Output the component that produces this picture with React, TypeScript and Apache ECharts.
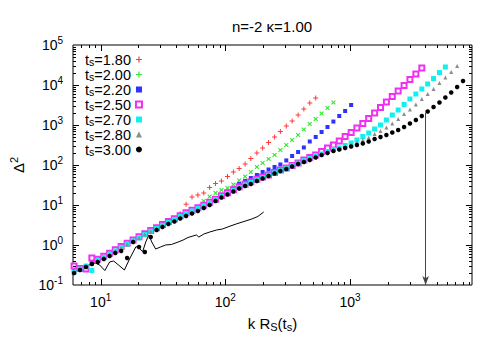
import React, { useEffect, useRef } from 'react';
import * as echarts from 'echarts';

// shared k R_S(t_s) grid
const kGrid = [6.12, 6.83, 7.62, 8.5, 9.47, 10.6, 11.8, 13.1, 14.6, 16.3, 18.2, 20.3, 22.6, 25.2, 28.1, 31.3, 34.9, 39.0, 43.4, 48.4, 54.0, 60.2, 67.1, 74.8, 83.4, 93.0, 104, 116, 129, 144, 160, 179, 199, 222, 248, 276, 308, 343, 383, 426, 475, 530, 591, 659, 735, 819, 913, 1020, 1135, 1265, 1410, 1573, 1754, 1955, 2180, 2430, 2710, 3020, 3370, 3760, 4190, 4670, 5210, 5810, 6470, 7220, 8050];

const ts180 = [0.22, 0.25, 0.30, 0.36, 0.42, 0.50, 0.60, 0.73, 0.89, 1.06, 1.30, 1.55, 1.9, 2.25, 2.7, 3.2, 3.8, 4.6, 6.0, 10.5, 15.8, 17.8, 20.0, 27.4, 34.5, 39.8, 51.6, 66.8, 81.8, 106, 145, 200, 266, 365, 501, 688, 944, 1259, 1778, 2512, 3548, 4732];
const ts200 = [0.21, 0.26, 0.30, 0.35, 0.43, 0.50, 0.60, 0.74, 0.90, 1.07, 1.32, 1.55, 1.9, 2.25, 2.7, 3.15, 3.8, 4.5, 5.3, 6.35, 7.4, 9.0, 12.5, 16.3, 20.0, 23.7, 26.6, 32.5, 41.0, 51.6, 66.8, 89.1, 112, 141, 178, 237, 316, 422, 562, 772, 1059, 1413, 1940, 2661, 3652];
const ts220 = [0.22, 0.25, 0.30, 0.35, 0.42, 0.51, 0.60, 0.72, 0.90, 1.05, 1.30, 1.56, 1.86, 2.25, 2.68, 3.2, 3.75, 4.5, 5.3, 6.3, 7.3, 8.4, 9.8, 11.5, 13.8, 16.8, 21.5, 26, 33.5, 39.8, 47.3, 56.2, 66.8, 77.2, 89.1, 103, 130, 168, 211, 274, 387, 501, 668, 891, 1220, 1679, 2239, 3162];
const ts250 = [0.30, 0.26, 0.25, 0.47, 0.44, 0.52, 0.62, 0.76, 0.92, 1.1, 1.33, 1.6, 1.92, 2.3, 2.7, 3.25, 3.85, 4.55, 5.4, 6.4, 7.4, 8.5, 9.9, 11.7, 13.9, 17.0, 20.2, 24.0, 28.5, 33.0, 38.0, 44.0, 50.0, 56.2, 64.9, 75.0, 84.1, 97.2, 112, 133, 154, 178, 218, 266, 316, 398, 516, 649, 841, 1090, 1454, 1995, 2738, 3758, 5158, 7079, 9716, 13700, 18800, 26600];
const ts270 = [0.21, 0.25, 0.29, 0.23, 0.41, 0.49, 0.58, 0.71, 0.87, 1.04, 1.27, 1.5, 1.83, 2.2, 2.6, 3.1, 3.65, 4.35, 5.15, 6.1, 7.05, 8.15, 9.4, 11.1, 13.3, 16.3, 19.4, 23.0, 27.3, 31.5, 36.5, 42.2, 48.7, 55.5, 63.5, 73.5, 83.5, 96, 111, 128, 146, 168, 188, 218, 244, 266, 307, 355, 422, 516, 631, 794, 1000, 1334, 1778, 2371, 3250, 4467, 5957, 7943, 10600, 14500, 20500, 28200];
const ts280 = [0.205, 0.245, 0.29, 0.345, 0.41, 0.485, 0.58, 0.71, 0.86, 1.03, 1.26, 1.5, 1.82, 2.17, 2.58, 3.07, 3.6, 4.1, 4.88, 5.63, 6.5, 7.5, 8.9, 10.6, 13.4, 16.3, 19.4, 23.1, 27.5, 31.7, 35.5, 42.2, 48.8, 56.3, 65, 75, 84.2, 97.2, 112, 126, 141, 163, 189, 212, 237, 259, 282, 316, 365, 422, 487, 596, 708, 866, 1090, 1413, 1884, 2440, 3250, 4467, 5960, 7940, 11200, 15400, 21100, 29900];
const ts300 = [0.2, 0.237, 0.282, 0.335, 0.376, 0.447, 0.531, 0.631, 0.708, 0.473, 1.19, 0.891, 0.668, 1.585, 2.37, 2.82, 3.35, 3.87, 4.6, 5.31, 6.13, 7.08, 8.41, 10.0, 12.6, 15.4, 18.3, 21.8, 25.9, 29.9, 33.5, 39.8, 46.0, 53.1, 61.3, 70.8, 79.4, 91.7, 106, 119, 133, 154, 178, 200, 224, 244, 266, 290, 316, 345, 387, 447, 501, 562, 649, 750, 891, 1090, 1330, 1680, 2180, 2820, 3650, 4870, 6490, 8910, 12600];

const seriesNames = ['ts=1.80', 'ts=2.00', 'ts=2.20', 'ts=2.50', 'ts=2.70', 'ts=2.80', 'ts=3.00'];
const seriesValues = [ts180, ts200, ts220, ts250, ts270, ts280, ts300];
const seriesColors = ['#ff3a3a', '#2ee82e', '#3030ff', '#f030f0', '#10f0f0', '#8c8c8c', '#000000'];

// solid reference curve
const lineK = [6.24, 7.08, 8.05, 9.05, 9.82, 10.8, 11.8, 12.7, 13.9, 15.5, 17.2, 19.2, 20.3, 21.7, 23.0, 24.3, 25.7, 27.6, 30.2, 33.1, 36.9, 41.9, 45.8, 50.2, 55.0, 58.6, 61.3, 67.1, 74.9, 85.0, 94.7, 107, 122, 141, 163, 182, 203];
const lineD = [0.224, 0.266, 0.316, 0.355, 0.316, 0.23, 0.376, 0.398, 0.316, 0.237, 0.473, 0.91, 0.841, 0.68, 1.19, 1.78, 1.19, 0.794, 0.891, 1.0, 1.03, 1.19, 1.33, 1.54, 1.68, 1.78, 1.58, 1.88, 2.11, 2.37, 2.51, 2.9, 3.35, 3.87, 4.47, 5.16, 6.68];

const arrowK = 4035;
const arrowTop = 2040;

const X_MIN = 6;
const X_MAX = 9500;
const Y_MIN = 0.1;
const Y_MAX = 100000;
const xDecades = [1, 10, 100, 1000];
const yDecades = [0.1, 1, 10, 100, 1000, 10000];
const minorSteps = [2, 3, 4, 5, 6, 7, 8, 9];

const FONT = '"Liberation Sans", Arial, Helvetica, sans-serif';
const PLUS = 'path://M2,0H3V2H5V3H3V5H2V3H0V2H2Z';

function supLabel(v: number) {
  const e = Math.round(Math.log10(v));
  if (Math.abs(Math.log10(v) - e) > 1e-6) return '';
  return `{b|10}{e|${e}}`;
}

export default function App() {
  const ref = useRef<HTMLDivElement>(null);
  useEffect(() => {
    if (!ref.current) return;
    const chart = echarts.init(ref.current, undefined, { renderer: 'svg' });

    const tickData: number[][] = [];
    xDecades.forEach((d) => {
      if (d * 10 > X_MIN && d * 10 < X_MAX) tickData.push([d * 10, 1, 0, 1]);
      minorSteps.forEach((m) => {
        const v = d * m;
        if (v > X_MIN && v < X_MAX) tickData.push([v, 1, 0, 0]);
      });
    });
    yDecades.forEach((d) => {
      if (d * 10 > Y_MIN && d * 10 < Y_MAX) tickData.push([10, d * 10, 1, 1]);
      minorSteps.forEach((m) => {
        const v = d * m;
        if (v > Y_MIN && v < Y_MAX) tickData.push([10, v, 1, 0]);
      });
    });

    const symbols = [PLUS, PLUS, 'rect', 'emptyRect', 'rect', 'triangle', 'circle'];
    const sizes = [5, 5.5, 4, 5, 5, 4, 4.5];
    const rotates = [0, 45, 0, 0, 0, 0, 0];

    const scatterSeries = seriesNames.map((name, si) => ({
      name,
      type: 'scatter',
      data: seriesValues[si].map((v, i) => [kGrid[i], v]),
      symbol: symbols[si],
      symbolSize: sizes[si],
      symbolRotate: rotates[si],
      itemStyle: {
        color: seriesColors[si],
        borderColor: seriesColors[si],
        borderWidth: si === 3 ? 1 : 0,
        opacity: 1,
      },
      z: 3,
    }));

    const sub = { fontSize: 11, lineHeight: 10, verticalAlign: 'bottom', fontFamily: FONT, color: '#000' };
    const base = { fontSize: 15, lineHeight: 18, fontFamily: FONT, color: '#000' };

    const option: any = {
      animation: false,
      backgroundColor: '#fff',
      title: {
        text: 'n=-2 κ=1.00',
        left: 227,
        top: 14,
        textStyle: { fontSize: 15, fontWeight: 'normal', fontFamily: FONT, color: '#000' },
      },
      grid: { left: 65, top: 45, right: 28, bottom: 65, show: true, borderColor: '#000', borderWidth: 1 },
      legend: {
        orient: 'vertical',
        left: 80,
        top: 47,
        align: 'right',
        itemGap: 0,
        itemWidth: 6,
        itemHeight: 6,
        data: seriesNames,
        selectedMode: false,
        formatter: (name: string) => `{t|t}{s|s}{t|${name.slice(2)}}`,
        textStyle: {
          width: 71,
          height: 15,
          fontFamily: FONT,
          rich: {
            t: { fontSize: 14.5, lineHeight: 15, fontFamily: FONT, color: '#000' },
            s: { fontSize: 10.5, lineHeight: 7, verticalAlign: 'bottom', fontFamily: FONT, color: '#000' },
          },
        },
      },
      xAxis: [
        {
          type: 'log',
          logBase: 10,
          min: X_MIN,
          max: X_MAX,
          position: 'bottom',
          axisLine: { show: false },
          axisTick: { show: false },
          splitLine: { show: false },
          axisLabel: {
            showMinLabel: false,
            showMaxLabel: false,
            margin: 7,
            formatter: supLabel,
            rich: {
              b: { fontSize: 14, lineHeight: 20, fontFamily: FONT, color: '#000' },
              e: { fontSize: 10, lineHeight: 10, verticalAlign: 'top', fontFamily: FONT, color: '#000' },
            },
          },
          name: '{n|k R}{s|S}{n|(t}{s|s}{n|)}',
          nameLocation: 'middle',
          nameGap: 29,
          nameTextStyle: { rich: { n: base, s: sub } },
        },
      ],
      yAxis: [
        {
          type: 'log',
          logBase: 10,
          min: Y_MIN,
          max: Y_MAX,
          axisLine: { show: false },
          axisTick: { show: false },
          splitLine: { show: false },
          axisLabel: {
            margin: 10,
            formatter: supLabel,
            rich: {
              b: { fontSize: 14, lineHeight: 20, fontFamily: FONT, color: '#000' },
              e: { fontSize: 10, lineHeight: 10, verticalAlign: 'top', fontFamily: FONT, color: '#000' },
            },
          },
          name: '{n|Δ}{e|2}',
          nameLocation: 'middle',
          nameRotate: 90,
          nameGap: 45,
          nameTextStyle: {
            rich: {
              n: { fontSize: 15, lineHeight: 20, fontFamily: FONT, color: '#000' },
              e: { fontSize: 11, lineHeight: 10, verticalAlign: 'top', fontFamily: FONT, color: '#000' },
            },
          },
        },
      ],
      series: [
        ...scatterSeries,
        {
          name: 'curve',
          type: 'line',
          data: lineK.map((k, i) => [k, lineD[i]]),
          showSymbol: false,
          symbol: 'none',
          lineStyle: { color: '#000', width: 1 },
          z: 2,
          markLine: {
            silent: true,
            symbol: ['none', 'arrow'],
            symbolSize: [5, 9],
            label: { show: false },
            lineStyle: { color: '#444', width: 1, type: 'solid' },
            data: [[{ coord: [arrowK, arrowTop] }, { coord: [arrowK, Y_MIN] }]],
          },
        },
        {
          type: 'custom',
          silent: true,
          clip: false,
          z: 4,
          encode: { x: 0, y: 1 },
          data: tickData,
          renderItem: (_p: any, api: any) => {
            const kind = api.value(2);
            const L = api.value(3) ? 6 : 3;
            const st = { stroke: '#000', lineWidth: 1 };
            if (kind === 0) {
              const v = api.value(0);
              const a = api.coord([v, Y_MIN]);
              const b = api.coord([v, Y_MAX]);
              const x = Math.round(a[0]) + 0.5;
              return {
                type: 'group',
                children: [
                  { type: 'line', shape: { x1: x, y1: a[1], x2: x, y2: a[1] - L }, style: st },
                  { type: 'line', shape: { x1: x, y1: b[1], x2: x, y2: b[1] + L }, style: st },
                ],
              };
            }
            const v = api.value(1);
            const a = api.coord([X_MIN, v]);
            const b = api.coord([X_MAX, v]);
            const y = Math.round(a[1]) + 0.5;
            return {
              type: 'group',
              children: [
                { type: 'line', shape: { x1: a[0], y1: y, x2: a[0] + L, y2: y }, style: st },
                { type: 'line', shape: { x1: b[0], y1: y, x2: b[0] - L, y2: y }, style: st },
              ],
            };
          },
        },
      ],
    };
    chart.setOption(option);
    return () => chart.dispose();
  }, []);
  return <div ref={ref} style={{ position: 'fixed', left: 0, top: 0, width: 500, height: 350, background: '#fff' }} />;
}
